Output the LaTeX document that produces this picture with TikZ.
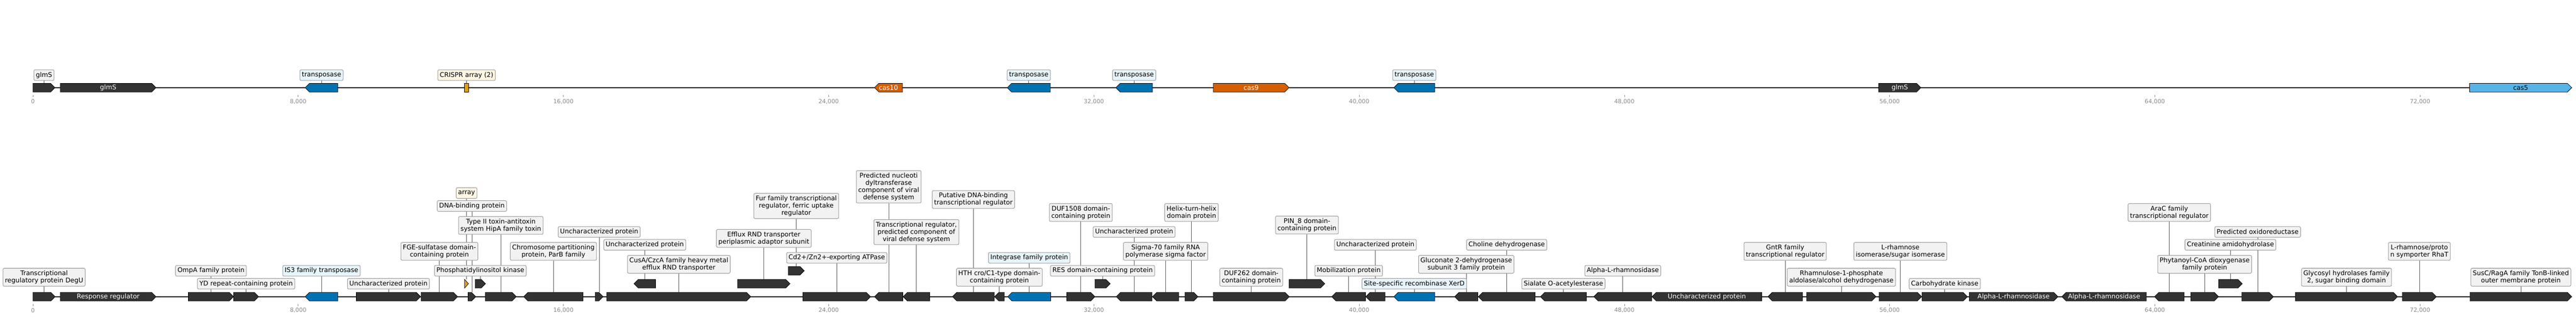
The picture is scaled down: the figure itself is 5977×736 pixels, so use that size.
\documentclass[tikz,border=0pt]{standalone}
\usepackage{fontspec}
\setmainfont{DejaVu Sans}
\usetikzlibrary{backgrounds}

\definecolor{genedark}{HTML}{333333}
\definecolor{tnpblue}{HTML}{0072B2}
\definecolor{casorange}{HTML}{D55E00}
\definecolor{casblue}{HTML}{56B4E9}
\definecolor{crisprgold}{HTML}{E69F00}
\definecolor{boxgrey}{HTML}{F2F2F2}
\definecolor{boxedge}{HTML}{9A9A9A}
\definecolor{boxblue}{HTML}{E6F5FC}
\definecolor{boxcream}{HTML}{FDF6E3}
\definecolor{leadgrey}{HTML}{555555}
\definecolor{tickgrey}{HTML}{888888}

\newcommand\lblfont{\fontsize{15}{16.7}\selectfont}
\newcommand\tickfont{\fontsize{13.4}{15}\selectfont}

% forward / reverse gene: [colour style]{start}{end}{y}{name}
\newcommand\fgene[5][dark]{%
  \pgfmathsetmacro\gtip{min(10,#3-#2)}%
  \draw[gene,#1] (#2,#4-10) -- ({#3-\gtip},#4-10) -- (#3,#4) -- ({#3-\gtip},#4+10) -- (#2,#4+10) -- cycle;
  \coordinate (#5) at ({(#2+#3)/2},#4-10);
  \coordinate (#5m) at ({(#2+#3)/2},#4);}
\newcommand\rgene[5][dark]{%
  \pgfmathsetmacro\gtip{min(10,#3-#2)}%
  \draw[gene,#1] (#2,#4) -- ({#2+\gtip},#4-10) -- (#3,#4-10) -- (#3,#4+10) -- ({#2+\gtip},#4+10) -- cycle;
  \coordinate (#5) at ({(#2+#3)/2},#4-10);
  \coordinate (#5m) at ({(#2+#3)/2},#4);}

\tikzset{
  gene/.style={draw=black, line width=0.9pt},
  dark/.style={fill=genedark},
  tnp/.style={fill=tnpblue},
  cas/.style={fill=casorange},
  casfive/.style={fill=casblue},
  crispr/.style={fill=crisprgold},
  track/.style={draw=black, line width=2.7pt},
  lbl/.style={draw=boxedge, fill=boxgrey, rounded corners=3pt, line width=1.2pt,
    align=center, inner xsep=4.5pt, inner ysep=2pt, minimum height=24.7pt, font=\lblfont},
  nlines/.style={minimum height={#1*16.7pt+8pt}},
  lbltn/.style={lbl, fill=boxblue},
  lblcr/.style={lbl, fill=boxcream},
  intext/.style={text=white, font=\lblfont, inner sep=0pt},
  leader/.style={draw=leadgrey, line width=0.9pt},
  tick/.style={draw=tickgrey, line width=0.8pt},
  ticklbl/.style={text=tickgrey, font=\tickfont, inner sep=0pt},
}

\begin{document}
\begin{tikzpicture}[x=1pt, y=-1pt]
  \useasboundingbox (0,0) rectangle (5977,736);

  % backbones
  \coordinate (topL) at (76.5,203);
  \coordinate (topR) at (5967,203);
  \coordinate (botL) at (76.5,687);
  \coordinate (botR) at (5967,687);
  \draw[track] (topL) -- (topR);
  \draw[track] (botL) -- (botR);

  % scale
  \foreach \ty/\tn in {203/t,687/b}
    \foreach \k/\lab in {0/0,1/{8,000},2/{16,000},3/{24,000},4/{32,000},5/{40,000},6/{48,000},7/{56,000},8/{64,000},9/{72,000}} {
      \draw[tick] ({76.5+615.4*\k},\ty+17) -- ({76.5+615.4*\k},\ty+22);
      \node[ticklbl] (tk\tn\k) at ({76.5+615.4*\k},\ty+32) {\lab};
    }

  % top track
  \fgene{76.5}{127.6}{203}{t1}
  \fgene{140}{362}{203}{t2}
  \rgene[tnp]{708}{784}{203}{t3}
  \draw[gene,crispr] (1078,193) rectangle (1087,213);
  \coordinate (t4) at (1082.5,193);
  \rgene[cas]{2029}{2094}{203}{t5}
  \rgene[tnp]{2337}{2437}{203}{t6}
  \rgene[tnp]{2589}{2674}{203}{t7}
  \fgene[cas]{2815}{2991}{203}{t8}
  \rgene[tnp]{3234}{3329}{203}{t9}
  \fgene{4359}{4457}{203}{t10}
  \fgene[casfive]{5730}{5967}{203}{t11}

  \node[intext] (q2) at (t2m) {glmS};
  \node[intext] (q5) at (t5m) {cas10};
  \node[intext] (q8) at (t8m) {cas9};
  \node[intext] (q10) at (t10m) {glmS};
  \node[intext, text=black] (q11) at (t11m) {cas5};

  \node[lbl] (k1) at (t1 |- 0,174) {glmS};
  \node[lbltn] (k3) at (t3 |- 0,174) {transposase};
  \node[lblcr] (k4) at (t4 |- 0,174) {CRISPR array (2)};
  \node[lbltn] (k6) at (t6 |- 0,174) {transposase};
  \node[lbltn] (k7) at (t7 |- 0,174) {transposase};
  \node[lbltn] (k9) at (t9 |- 0,174) {transposase};

  % bottom track
  \fgene{76.5}{128}{687}{b1}
  \fgene{140}{362}{687}{b2}
  \fgene{437}{542}{687}{b3}
  \fgene{542}{600}{687}{b4}
  \rgene[tnp]{708}{784}{687}{b5}
  \fgene{826.5}{976}{687}{b6}
  \fgene{977}{1062}{687}{b7}
  \fgene{1086}{1104}{687}{b8}
  \fgene{1126}{1198}{687}{b9}
  \rgene{1215}{1353}{687}{b10}
  \fgene{1381}{1399.5}{687}{b11}
  \fgene{1408}{1742}{687}{b12}
  \fgene{1863}{2020}{687}{b13}
  \rgene{2029}{2095}{687}{b14}
  \rgene{2095.5}{2157}{687}{b15}
  \rgene{2210}{2307}{687}{b16}
  \rgene{2307.5}{2330}{687}{b17}
  \rgene[tnp]{2338}{2438}{687}{b18}
  \fgene{2475}{2540.5}{687}{b19}
  \rgene{2590}{2673}{687}{b20}
  \rgene{2674}{2735}{687}{b21}
  \fgene{2749.5}{2779.6}{687}{b22}
  \fgene{2815}{2991.6}{687}{b23}
  \rgene{3090}{3168.5}{687}{b24}
  \rgene{3169}{3213.5}{687}{b25}
  \rgene[tnp]{3234}{3329}{687}{b26}
  \rgene{3375}{3429}{687}{b27}
  \rgene{3430}{3562}{687}{b28}
  \rgene{3574}{3681}{687}{b29}
  \rgene{3698}{3832.5}{687}{b30}
  \rgene{3833}{4087.5}{687}{b31}
  \rgene{4102}{4182}{687}{b32}
  \fgene{4192}{4353}{687}{b33}
  \fgene{4360}{4458.7}{687}{b34}
  \fgene{4459.6}{4565}{687}{b35}
  \fgene{4569}{4775}{687}{b36}
  \rgene{4784}{4980}{687}{b37}
  \rgene{4999}{5067.6}{687}{b38}
  \fgene{5083}{5147.6}{687}{b39}
  \fgene{5201.5}{5275}{687}{b40}
  \fgene{5326}{5563}{687}{b41}
  \fgene{5574}{5653}{687}{b42}
  \fgene{5731}{5967}{687}{b43}

  % raised rows
  \fgene[crispr]{1078}{1087}{657}{r1}
  \fgene{1102.5}{1126.5}{657}{r2}
  \rgene{1471}{1521}{657}{r3}
  \fgene{1711.5}{1833}{657}{r4}
  \fgene{2540.5}{2576}{657}{r5}
  \fgene{2991}{3074}{657}{r6}
  \fgene{5147.6}{5202.6}{657}{r7}
  \fgene{1829}{1866}{627}{r8}

  \node[intext] (n2) at (b2m) {Response regulator};
  \node[intext] (n31) at (b31m) {Uncharacterized protein};
  \node[intext] (n36) at (b36m) {Alpha-L-rhamnosidase};
  \node[intext] (n37) at (b37m) {Alpha-L-rhamnosidase};

  \node[lbl, nlines=2] (l1) at (b1 |- 0,642) {Transcriptional\\regulatory protein DegU};
  \node[lbl] (l3) at (b3 |- 0,627) {OmpA family protein};
  \node[lbl] (l4) at (b4 |- 0,657) {YD repeat-containing protein};
  \node[lbltn] (l5) at (b5 |- 0,627) {IS3 family transposase};
  \node[lbl] (l6) at (b6 |- 0,657) {Uncharacterized protein};
  \node[lbl, nlines=2] (l7) at (b7 |- 0,582) {FGE-sulfatase domain-\\containing protein};
  \node[lbl] (l8) at (b8 |- 0,477) {DNA-binding protein};
  \node[lbl, nlines=2] (l9) at (b9 |- 0,522) {Type II toxin-antitoxin\\system HipA family toxin};
  \node[lbl, nlines=2] (l10) at (b10 |- 0,582) {Chromosome partitioning\\protein, ParB family};
  \node[lbl] (l11) at (b11 |- 0,537) {Uncharacterized protein};
  \node[lbl, nlines=2] (l12) at (b12 |- 0,612) {CusA/CzcA family heavy metal\\efflux RND transporter};
  \node[lbl] (l13) at (b13 |- 0,597) {Cd2+/Zn2+-exporting ATPase};
  \node[lbl, nlines=4] (l14) at (b14 |- 0,432.5) {Predicted nucleoti\\dyltransferase\\component of viral\\defense system};
  \node[lbl, nlines=3] (l15) at (b15 |- 0,537.5) {Transcriptional regulator,\\predicted component of\\viral defense system};
  \node[lbl, nlines=2] (l16) at (b16 |- 0,462) {Putative DNA-binding\\transcriptional regulator};
  \node[lbl, nlines=2] (l17) at (b17 |- 0,642) {HTH cro/C1-type domain-\\containing protein};
  \node[lbltn] (l18) at (b18 |- 0,597) {Integrase family protein};
  \node[lbl, nlines=2] (l19) at (b19 |- 0,492) {DUF1508 domain-\\containing protein};
  \node[lbl] (l20) at (b20 |- 0,537) {Uncharacterized protein};
  \node[lbl, nlines=2] (l21) at (b21 |- 0,582) {Sigma-70 family RNA\\polymerase sigma factor};
  \node[lbl, nlines=2] (l22) at (b22 |- 0,492) {Helix-turn-helix\\domain protein};
  \node[lbl, nlines=2] (l23) at (b23 |- 0,642) {DUF262 domain-\\containing protein};
  \node[lbl] (l24) at (b24 |- 0,627) {Mobilization protein};
  \node[lbl] (l25) at (b25 |- 0,567) {Uncharacterized protein};
  \node[lbltn] (l26) at (b26 |- 0,657) {Site-specific recombinase XerD};
  \node[lbl, nlines=2] (l27) at (b27 |- 0,612) {Gluconate 2-dehydrogenase\\subunit 3 family protein};
  \node[lbl] (l28) at (b28 |- 0,567) {Choline dehydrogenase};
  \node[lbl] (l29) at (b29 |- 0,657) {Sialate O-acetylesterase};
  \node[lbl] (l30) at (b30 |- 0,627) {Alpha-L-rhamnosidase};
  \node[lbl, nlines=2] (l32) at (b32 |- 0,582) {GntR family\\transcriptional regulator};
  \node[lbl, nlines=2] (l33) at (b33 |- 0,642) {Rhamnulose-1-phosphate\\aldolase/alcohol dehydrogenase};
  \node[lbl, nlines=2] (l34) at (b34 |- 0,582) {L-rhamnose\\isomerase/sugar isomerase};
  \node[lbl] (l35) at (b35 |- 0,657) {Carbohydrate kinase};
  \node[lbl, nlines=2] (l38) at (b38 |- 0,492) {AraC family\\transcriptional regulator};
  \node[lbl, nlines=2] (l39) at (b39 |- 0,612) {Phytanoyl-CoA dioxygenase\\family protein};
  \node[lbl] (l40) at (b40 |- 0,537) {Predicted oxidoreductase};
  \node[lbl, nlines=2] (l41) at (b41 |- 0,642) {Glycosyl hydrolases family\\2, sugar binding domain};
  \node[lbl, nlines=2] (l42) at (b42 |- 0,582) {L-rhamnose/proto\\n symporter RhaT};
  \node[lbl, nlines=2] (l43) at (b43 |- 0,642) {SusC/RagA family TonB-linked\\outer membrane protein};

  \node[lblcr] (m1) at (r1 |- 0,447) {array};
  \node[lbl] (m2) at (r2 |- 0,627) {Phosphatidylinositol kinase};
  \node[lbl] (m3) at (r3 |- 0,567) {Uncharacterized protein};
  \node[lbl, nlines=2] (m4) at (r4 |- 0,552) {Efflux RND transporter\\periplasmic adaptor subunit};
  \node[lbl] (m5) at (r5 |- 0,627) {RES domain-containing protein};
  \node[lbl, nlines=2] (m6) at (r6 |- 0,521) {PIN\_8 domain-\\containing protein};
  \node[lbl] (m7) at (r7 |- 0,567) {Creatinine amidohydrolase};
  \node[lbl, nlines=3] (m8) at (r8 |- 0,477) {Fur family transcriptional\\regulator, ferric uptake\\regulator};

  % leader lines behind the boxes
  \begin{scope}[on background layer]
    \foreach \g/\l in {t1/k1,t3/k3,t4/k4,t6/k6,t7/k7,t9/k9,
        b1/l1,b3/l3,b4/l4,b5/l5,b6/l6,b7/l7,b8/l8,b9/l9,b10/l10,b11/l11,b12/l12,
        b13/l13,b14/l14,b15/l15,b16/l16,b17/l17,b18/l18,b19/l19,b20/l20,b21/l21,
        b22/l22,b23/l23,b24/l24,b25/l25,b26/l26,b27/l27,b28/l28,b29/l29,b30/l30,
        b32/l32,b33/l33,b34/l34,b35/l35,b38/l38,b39/l39,b40/l40,b41/l41,b42/l42,b43/l43,
        r1/m1,r2/m2,r3/m3,r4/m4,r5/m5,r6/m6,r7/m7,r8/m8}
      \draw[leader] (\g) -- (\l);
  \end{scope}
\end{tikzpicture}
\end{document}
